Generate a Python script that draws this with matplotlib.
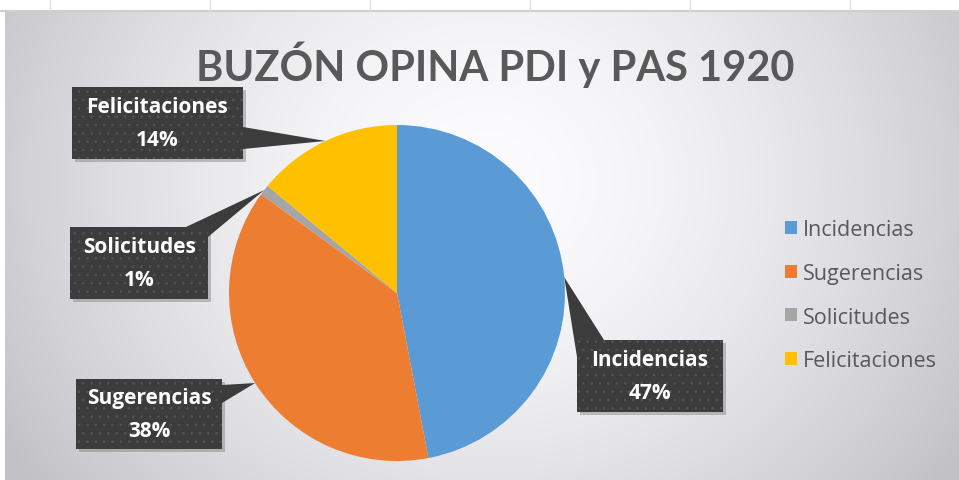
import matplotlib.pyplot as plt
import numpy as np
from matplotlib.patches import Rectangle, Polygon

categorias = ['Incidencias', 'Sugerencias', 'Solicitudes', 'Felicitaciones']
porcentajes = [47, 38, 1, 14]
colores = ['#5B9BD5', '#ED7D31', '#A5A5A5', '#FFC000']
titulo = 'BUZÓN OPINA PDI y PAS 1920'

W, H = 959, 481
plt.rcParams['font.family'] = ['Open Sans', 'DejaVu Sans']
plt.rcParams['hatch.color'] = '#555555'
plt.rcParams['hatch.linewidth'] = 0.6

fig = plt.figure(figsize=(W / 100, H / 100), dpi=100)
ax = fig.add_axes([0, 0, 1, 1])

# fondo con degradado radial
yy, xx = np.mgrid[0:469, 0:954]
d = np.sqrt(((xx - 480) / 1.0) ** 2 + ((yy - 170) / 0.9) ** 2) / 560
t = np.clip(d, 0, 1) ** 1.6
base = np.array([0.99, 0.99, 1.0])
borde = np.array([0.76, 0.76, 0.78])
img = base[None, None, :] * (1 - t[..., None]) + borde[None, None, :] * t[..., None]
ax.imshow(img, extent=(5, W, 0, 469), origin='upper', zorder=0, aspect='auto')

# tarta
wedges, _ = ax.pie(porcentajes, colors=colores, startangle=90, counterclock=False,
                   center=(397, H - 294), radius=168, wedgeprops=dict(linewidth=0))
for w in wedges:
    w.set_zorder(2)

# cajas de etiquetas (x, y arriba, ancho, alto) en pixeles
cajas = [(577, 341, 146, 72), (76, 380, 146, 70), (70, 228, 138, 72), (72, 88, 171, 72)]
bases = [[(577, 358), (604, 341)], [(222, 386), (222, 404)],
         [(186, 228), (208, 238)], [(243, 128), (243, 150)]]

for w, cat, p, caja, b in zip(wedges, categorias, porcentajes, cajas, bases):
    ang = np.deg2rad((w.theta1 + w.theta2) / 2)
    tip = (w.center[0] + w.r * np.cos(ang), w.center[1] + w.r * np.sin(ang))
    x, y, bw, bh = caja
    y0 = H - y - bh
    ax.add_patch(Rectangle((x + 3, y0 - 3), bw, bh, color='#888888', alpha=0.5, lw=0, zorder=3))
    pts = [tip, (b[0][0], H - b[0][1]), (b[1][0], H - b[1][1])]
    ax.add_patch(Polygon(pts, closed=True, facecolor='#3c3c3c', lw=0, zorder=3))
    ax.add_patch(Rectangle((x, y0), bw, bh, facecolor='#3c3c3c', hatch='..', lw=0, zorder=4))
    ax.text(x + bw / 2, y0 + bh / 2, f'{cat}\n{p}%', ha='center', va='center',
            color='white', fontsize=15, fontweight='bold', linespacing=1.75, zorder=5)

ax.text(495, H - 65, titulo, ha='center', va='center', color='#595959',
        fontsize=30, fontweight='bold', family=['Lato', 'DejaVu Sans'], zorder=5)

fig.legend(wedges, categorias, loc='upper left', bbox_to_anchor=(766 / W, 1 - 201 / H),
           frameon=False, handlelength=0.55, handleheight=0.55, handletextpad=0.25,
           labelspacing=1.05, fontsize=15.5, labelcolor='#595959')

# franja superior de la hoja
ax.axhline(469, color='#cfcfcf', lw=1.5, zorder=1)
ax.vlines([50, 210, 370, 530, 690, 850], 469, H, color='#e0e0e0', lw=1, zorder=1)

ax.set_xlim(0, W)
ax.set_ylim(0, H)
ax.set_aspect('auto')
ax.axis('off')

plt.savefig('out.png', dpi=100)
